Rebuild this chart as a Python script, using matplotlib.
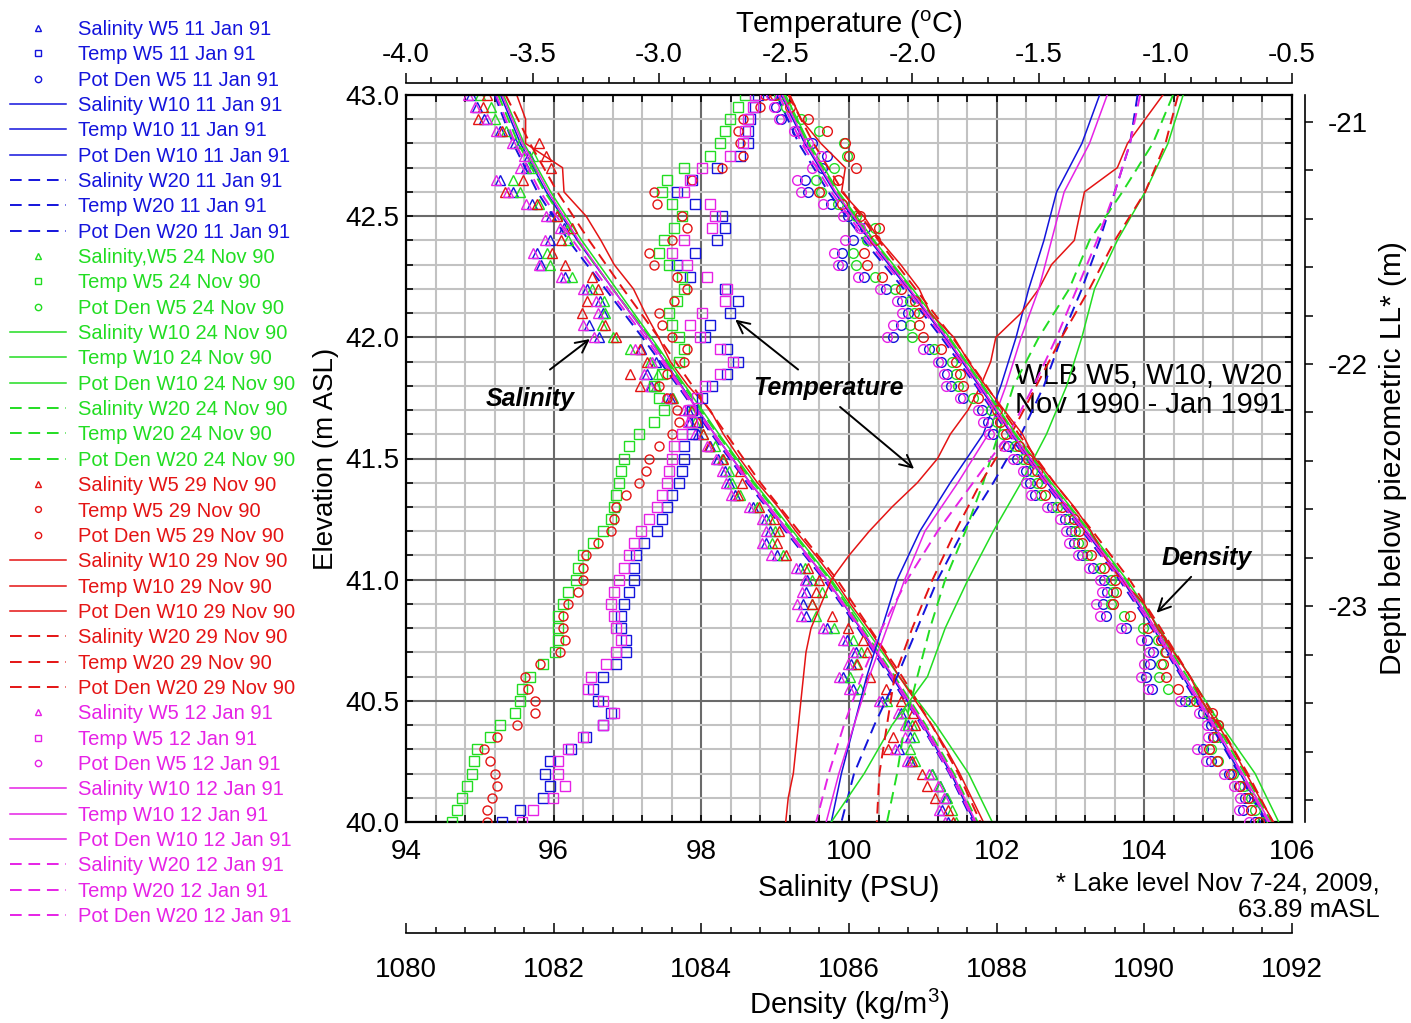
import numpy as np
import matplotlib
matplotlib.use('Agg')
import matplotlib.pyplot as plt
from matplotlib.ticker import MultipleLocator, FormatStrFormatter

plt.rcParams['font.family'] = ['Liberation Sans', 'DejaVu Sans']
plt.rcParams['mathtext.default'] = 'regular'

lake_level = 63.89  # mASL, Nov 7-24 2009

dates = ['11 Jan 91', '24 Nov 90', '29 Nov 90', '12 Jan 91']
colors = ['#1414dc', '#22dd22', '#e41414', '#e622e6']

# elevation of the samples (m ASL)
elev_w5 = np.round(np.arange(43.0, 39.999, -0.05), 2)
elev_w = [43.0, 42.8, 42.6, 42.4, 42.2, 42.0, 41.8, 41.6,
          41.4, 41.2, 41.0, 40.8, 40.6, 40.4, 40.2, 40.0]
elev_fine = np.round(np.arange(43.0, 39.999, -0.1), 1)

# ---- W5 profiles (markers) ----
sal_w5_jan11 = [94.88, 94.96, 95.05, 95.27, 95.48, 95.66, 95.63, 95.27, 95.45, 95.70,
                95.97, 96.14, 95.95, 95.78, 95.83, 96.15, 96.45, 96.63, 96.67, 96.48,
                96.62, 97.18, 97.38, 97.26, 97.32, 97.57, 97.82, 97.85, 97.96, 98.12,
                98.23, 98.32, 98.37, 98.46, 98.70, 98.88, 98.93, 98.88, 99.02, 99.33,
                99.43, 99.42, 99.38, 99.42, 99.70, 99.97, 100.10, 100.03, 99.92, 100.05,
                100.45, 100.71, 100.80, 100.82, 100.68, 100.82, 101.12, 101.23, 101.32, 101.26,
                101.34]
sal_w5_nov24 = [95.00, 95.15, 95.21, 95.35, 95.55, 95.72, 95.70, 95.45, 95.54, 95.80,
                96.05, 96.20, 96.20, 95.91, 95.95, 96.25, 96.52, 96.68, 96.70, 96.65,
                96.80, 97.03, 97.30, 97.41, 97.38, 97.62, 97.86, 97.92, 98.02, 98.18,
                98.28, 98.38, 98.42, 98.52, 98.76, 98.93, 99.00, 98.96, 99.10, 99.40,
                99.50, 99.64, 99.50, 99.55, 99.80, 100.05, 100.16, 100.10, 100.02, 100.15,
                100.52, 100.76, 100.86, 100.88, 100.83, 100.90, 101.12, 101.23, 101.33, 101.39,
                101.45]
sal_w5_nov29 = [95.10, 95.04, 94.98, 95.30, 95.80, 95.90, 95.97, 95.59, 95.34, 95.78,
                96.05, 96.25, 96.10, 95.98, 96.15, 96.52, 96.60, 96.45, 96.38, 96.70,
                96.85, 97.17, 97.26, 97.03, 97.17, 97.60, 97.88, 97.95, 98.02, 98.10,
                98.30, 98.52, 98.55, 98.50, 98.78, 98.98, 99.05, 99.02, 99.15, 99.45,
                99.60, 99.55, 99.50, 99.77, 99.99, 100.19, 100.25, 100.11, 100.29, 100.50,
                100.70, 100.87, 100.90, 100.60, 100.53, 100.85, 100.99, 101.06, 101.17, 101.34,
                101.41]
sal_w5_jan12 = [94.84, 94.94, 95.10, 95.22, 95.43, 95.60, 95.55, 95.22, 95.38, 95.63,
                95.90, 96.08, 95.88, 95.72, 95.80, 96.10, 96.40, 96.57, 96.60, 96.40,
                96.55, 97.10, 97.33, 97.22, 97.30, 97.52, 97.76, 97.82, 97.92, 98.08,
                98.20, 98.28, 98.33, 98.40, 98.64, 98.82, 98.88, 98.82, 98.95, 99.28,
                99.40, 99.36, 99.30, 99.35, 99.65, 99.92, 100.05, 99.98, 99.86, 100.00,
                100.40, 100.66, 100.76, 100.76, 100.62, 100.78, 101.08, 101.20, 101.28, 101.22,
                101.30]

temp_w5_jan11 = [-2.61, -2.62, -2.64, -2.65, -2.65, -2.68, -2.77, -2.87, -2.93, -2.86,
                 -2.75, -2.74, -2.77, -2.86, -2.93, -2.88, -2.74, -2.69, -2.72, -2.80,
                 -2.82, -2.73, -2.69, -2.73, -2.79, -2.83, -2.87, -2.85, -2.87, -2.90,
                 -2.90, -2.91, -2.92, -2.95, -2.97, -2.99, -3.01, -3.06, -3.09, -3.10,
                 -3.10, -3.12, -3.14, -3.15, -3.15, -3.13, -3.13, -3.17, -3.22, -3.26,
                 -3.24, -3.19, -3.22, -3.29, -3.35, -3.43, -3.45, -3.43, -3.46, -3.55,
                 -3.62]
temp_w5_nov24 = [-2.66, -2.69, -2.72, -2.74, -2.76, -2.80, -2.90, -2.97, -2.99, -2.95,
                 -2.91, -2.94, -2.98, -3.00, -2.96, -2.91, -2.90, -2.93, -2.96, -2.95,
                 -2.92, -2.90, -2.92, -2.99, -3.02, -3.00, -2.98, -3.02, -3.08, -3.12,
                 -3.14, -3.15, -3.16, -3.17, -3.18, -3.19, -3.22, -3.26, -3.30, -3.32,
                 -3.33, -3.36, -3.38, -3.40, -3.40, -3.40, -3.41, -3.46, -3.51, -3.54,
                 -3.55, -3.57, -3.63, -3.67, -3.72, -3.73, -3.74, -3.76, -3.78, -3.80,
                 -3.82]
temp_w5_nov29 = [-2.58, -2.60, -2.67, -2.69, -2.68, -2.67, -2.75, -2.87, -3.02, -3.01,
                 -2.91, -2.89, -2.95, -3.04, -3.02, -2.93, -2.89, -2.94, -3.00, -2.99,
                 -2.95, -2.89, -2.90, -2.97, -3.00, -2.97, -2.93, -2.92, -2.95, -3.00,
                 -3.04, -3.05, -3.08, -3.13, -3.17, -3.18, -3.19, -3.24, -3.29, -3.30,
                 -3.30, -3.32, -3.36, -3.38, -3.38, -3.37, -3.39, -3.47, -3.53, -3.52,
                 -3.49, -3.49, -3.56, -3.64, -3.69, -3.67, -3.65, -3.64, -3.66, -3.68,
                 -3.68]
temp_w5_jan12 = [-2.62, -2.63, -2.65, -2.66, -2.67, -2.72, -2.83, -2.88, -2.90, -2.80,
                 -2.78, -2.79, -2.90, -2.95, -2.89, -2.81, -2.73, -2.74, -2.83, -2.88,
                 -2.84, -2.76, -2.71, -2.76, -2.82, -2.85, -2.88, -2.87, -2.91, -2.94,
                 -2.95, -2.96, -2.97, -2.99, -3.01, -3.04, -3.07, -3.10, -3.12, -3.14,
                 -3.16, -3.18, -3.19, -3.18, -3.17, -3.15, -3.17, -3.21, -3.27, -3.28,
                 -3.22, -3.18, -3.22, -3.30, -3.36, -3.40, -3.40, -3.37, -3.42, -3.50,
                 -3.54]

dens_w5_jan11 = [1084.96, 1085.01, 1085.08, 1085.30, 1085.50, 1085.70, 1085.63, 1085.40, 1085.45, 1085.75,
                 1085.98, 1086.22, 1086.05, 1085.90, 1085.90, 1086.20, 1086.50, 1086.72, 1086.80, 1086.70,
                 1086.60, 1087.08, 1087.25, 1087.33, 1087.38, 1087.55, 1087.80, 1087.88, 1087.95, 1088.15,
                 1088.28, 1088.40, 1088.45, 1088.52, 1088.75, 1088.92, 1089.00, 1089.05, 1089.15, 1089.30,
                 1089.45, 1089.50, 1089.44, 1089.48, 1089.75, 1090.03, 1090.12, 1090.08, 1090.02, 1090.10,
                 1090.55, 1090.80, 1090.90, 1090.93, 1090.80, 1090.90, 1091.15, 1091.28, 1091.36, 1091.34,
                 1091.50]
dens_w5_nov24 = [1085.05, 1085.15, 1085.35, 1085.60, 1085.93, 1085.97, 1085.80, 1085.55, 1085.62, 1085.85,
                 1086.10, 1086.35, 1086.25, 1086.05, 1086.10, 1086.35, 1086.62, 1086.82, 1086.88, 1086.82,
                 1086.85, 1087.15, 1087.40, 1087.45, 1087.48, 1087.68, 1087.92, 1088.00, 1088.08, 1088.25,
                 1088.36, 1088.48, 1088.54, 1088.60, 1088.82, 1088.98, 1089.06, 1089.10, 1089.22, 1089.40,
                 1089.55, 1089.58, 1089.55, 1089.72, 1089.98, 1090.18, 1090.28, 1090.22, 1090.20, 1090.32,
                 1090.62, 1090.86, 1091.00, 1090.98, 1090.90, 1091.00, 1091.20, 1091.35, 1091.45, 1091.50,
                 1091.60]
dens_w5_nov29 = [1085.00, 1085.20, 1085.45, 1085.70, 1085.95, 1086.00, 1086.10, 1085.85, 1085.60, 1085.90,
                 1086.15, 1086.40, 1086.35, 1086.20, 1086.25, 1086.45, 1086.70, 1086.90, 1086.95, 1086.95,
                 1087.00, 1087.25, 1087.45, 1087.50, 1087.55, 1087.75, 1088.00, 1088.05, 1088.12, 1088.30,
                 1088.42, 1088.55, 1088.60, 1088.65, 1088.88, 1089.05, 1089.12, 1089.15, 1089.28, 1089.45,
                 1089.60, 1089.62, 1089.58, 1089.80, 1090.05, 1090.22, 1090.30, 1090.25, 1090.30, 1090.45,
                 1090.70, 1090.92, 1091.00, 1090.95, 1090.88, 1090.98, 1091.18, 1091.30, 1091.40, 1091.45,
                 1091.55]
dens_w5_jan12 = [1084.94, 1084.98, 1085.05, 1085.25, 1085.45, 1085.62, 1085.50, 1085.30, 1085.35, 1085.65,
                 1085.92, 1086.15, 1085.95, 1085.80, 1085.85, 1086.12, 1086.42, 1086.65, 1086.72, 1086.60,
                 1086.52, 1087.00, 1087.20, 1087.28, 1087.32, 1087.50, 1087.75, 1087.82, 1087.90, 1088.10,
                 1088.22, 1088.35, 1088.40, 1088.46, 1088.68, 1088.86, 1088.94, 1088.98, 1089.10, 1089.25,
                 1089.40, 1089.42, 1089.35, 1089.40, 1089.68, 1089.96, 1090.06, 1090.00, 1089.95, 1090.05,
                 1090.48, 1090.74, 1090.85, 1090.86, 1090.72, 1090.84, 1091.08, 1091.22, 1091.30, 1091.28,
                 1091.42]

# ---- W10 profiles (solid lines) ----
sal_w10_jan11 = [95.28, 95.55, 95.90, 96.32, 96.80, 97.28, 97.73, 98.18, 98.66, 99.18, 99.70, 100.15, 100.58, 101.00, 101.38, 101.70]
sal_w10_nov24 = [95.32, 95.60, 95.96, 96.38, 96.85, 97.32, 97.78, 98.24, 98.72, 99.24, 99.76, 100.22, 100.68, 101.18, 101.62, 101.94]
sal_w10_nov29 = [95.50, 95.62, 95.62, 96.12, 96.14, 96.44, 96.64, 96.82, 97.08, 97.24,
                 97.42, 97.58, 97.82, 98.12, 98.30, 98.52, 98.76, 99.04, 99.28, 99.55,
                 99.80, 100.02, 100.26, 100.48, 100.68, 100.90, 101.12, 101.32, 101.50, 101.66,
                 101.82]
sal_w10_jan12 = [95.30, 95.58, 95.93, 96.34, 96.80, 97.28, 97.72, 98.18, 98.66, 99.18, 99.70, 100.16, 100.60, 101.02, 101.40, 101.72]

temp_w10_jan11 = [-1.26, -1.33, -1.43, -1.48, -1.54, -1.59, -1.65, -1.72, -1.85, -1.97, -2.06, -2.12, -2.18, -2.23, -2.28, -2.32]
temp_w10_nov24 = [-0.93, -0.99, -1.08, -1.19, -1.28, -1.33, -1.39, -1.47, -1.57, -1.68, -1.78, -1.87, -1.94, -2.08, -2.19, -2.32]
temp_w10_nov29 = [-1.01, -1.08, -1.15, -1.19, -1.32, -1.34, -1.36, -1.45, -1.50, -1.57,
                  -1.67, -1.69, -1.73, -1.78, -1.85, -1.90, -1.98, -2.08, -2.17, -2.25,
                  -2.32, -2.36, -2.40, -2.42, -2.43, -2.44, -2.45, -2.46, -2.47, -2.49,
                  -2.50]
temp_w10_jan12 = [-1.23, -1.30, -1.40, -1.45, -1.50, -1.57, -1.63, -1.70, -1.82, -1.95, -2.03, -2.10, -2.17, -2.23, -2.29, -2.34]

dens_w10_jan11 = [1085.08, 1085.40, 1085.80, 1086.28, 1086.80, 1087.30, 1087.76, 1088.20, 1088.68, 1089.20, 1089.70, 1090.12, 1090.52, 1090.92, 1091.30, 1091.66]
dens_w10_nov24 = [1085.14, 1085.46, 1085.86, 1086.34, 1086.86, 1087.36, 1087.82, 1088.26, 1088.74, 1089.26, 1089.76, 1090.20, 1090.62, 1091.04, 1091.50, 1091.82]
dens_w10_nov29 = [1085.20, 1085.35, 1085.62, 1085.95, 1085.90, 1086.20, 1086.42, 1086.70, 1086.95, 1087.10,
                  1087.42, 1087.62, 1087.85, 1088.10, 1088.35, 1088.52, 1088.78, 1089.05, 1089.28, 1089.45,
                  1089.68, 1090.00, 1090.18, 1090.40, 1090.62, 1090.78, 1091.00, 1091.20, 1091.38, 1091.56,
                  1091.75]
dens_w10_jan12 = [1085.10, 1085.42, 1085.82, 1086.30, 1086.82, 1087.32, 1087.78, 1088.22, 1088.70, 1089.22, 1089.72, 1090.15, 1090.55, 1090.95, 1091.33, 1091.70]

# ---- W20 profiles (dashed lines) ----
sal_w20_jan11 = [95.20, 95.45, 95.78, 96.20, 96.70, 97.20, 97.68, 98.14, 98.62, 99.14, 99.66, 100.12, 100.55, 100.98, 101.36, 101.68]
sal_w20_nov24 = [95.25, 95.52, 95.88, 96.32, 96.80, 97.30, 97.76, 98.22, 98.70, 99.22, 99.74, 100.18, 100.62, 101.04, 101.42, 101.74]
sal_w20_nov29 = [95.35, 95.68, 96.05, 96.48, 96.94, 97.42, 97.88, 98.34, 98.80, 99.32, 99.84, 100.28, 100.72, 101.12, 101.48, 101.78]
sal_w20_jan12 = [95.22, 95.48, 95.82, 96.26, 96.74, 97.24, 97.70, 98.16, 98.64, 99.16, 99.68, 100.14, 100.57, 100.99, 101.37, 101.70]

temp_w20_jan11 = [-1.11, -1.14, -1.20, -1.26, -1.33, -1.41, -1.48, -1.57, -1.68, -1.80, -1.90, -1.98, -2.06, -2.15, -2.23, -2.28]
temp_w20_nov24 = [-0.97, -1.05, -1.17, -1.30, -1.38, -1.50, -1.60, -1.66, -1.72, -1.79, -1.87, -1.93, -1.98, -2.03, -2.06, -2.10]
temp_w20_nov29 = [-0.95, -1.00, -1.08, -1.20, -1.30, -1.41, -1.51, -1.61, -1.73, -1.83, -1.92, -2.00, -2.07, -2.10, -2.13, -2.14]
temp_w20_jan12 = [-1.10, -1.14, -1.20, -1.27, -1.35, -1.43, -1.52, -1.62, -1.76, -1.90, -2.02, -2.12, -2.20, -2.27, -2.33, -2.38]

dens_w20_jan11 = [1085.02, 1085.32, 1085.72, 1086.20, 1086.74, 1087.25, 1087.72, 1088.16, 1088.64, 1089.16, 1089.66, 1090.10, 1090.50, 1090.90, 1091.28, 1091.64]
dens_w20_nov24 = [1085.12, 1085.44, 1085.84, 1086.32, 1086.84, 1087.34, 1087.80, 1088.24, 1088.72, 1089.24, 1089.74, 1090.17, 1090.58, 1090.98, 1091.36, 1091.72]
dens_w20_nov29 = [1085.18, 1085.52, 1085.92, 1086.40, 1086.90, 1087.40, 1087.86, 1088.30, 1088.78, 1089.30, 1089.80, 1090.22, 1090.62, 1091.02, 1091.40, 1091.74]
dens_w20_jan12 = [1085.05, 1085.36, 1085.76, 1086.24, 1086.78, 1087.28, 1087.74, 1088.18, 1088.66, 1089.18, 1089.68, 1090.12, 1090.52, 1090.93, 1091.31, 1091.68]

# per-date bundles (date, colour, salinity name, temp marker, W5..., W10 elev, W10..., W20...)
runs = [
    (dates[0], colors[0], 'Salinity W5', 's', sal_w5_jan11, temp_w5_jan11, dens_w5_jan11,
     elev_w, sal_w10_jan11, temp_w10_jan11, dens_w10_jan11, sal_w20_jan11, temp_w20_jan11, dens_w20_jan11),
    (dates[1], colors[1], 'Salinity,W5', 's', sal_w5_nov24, temp_w5_nov24, dens_w5_nov24,
     elev_w, sal_w10_nov24, temp_w10_nov24, dens_w10_nov24, sal_w20_nov24, temp_w20_nov24, dens_w20_nov24),
    (dates[2], colors[2], 'Salinity W5', 'o', sal_w5_nov29, temp_w5_nov29, dens_w5_nov29,
     elev_fine, sal_w10_nov29, temp_w10_nov29, dens_w10_nov29, sal_w20_nov29, temp_w20_nov29, dens_w20_nov29),
    (dates[3], colors[3], 'Salinity W5', 's', sal_w5_jan12, temp_w5_jan12, dens_w5_jan12,
     elev_w, sal_w10_jan12, temp_w10_jan12, dens_w10_jan12, sal_w20_jan12, temp_w20_jan12, dens_w20_jan12),
]

fig = plt.figure(figsize=(14.11, 10.23), dpi=100)
ax = fig.add_axes([406 / 1411, 1 - 822 / 1023, 886 / 1411, 727 / 1023])
ax_t = ax.twiny()   # temperature
ax_d = ax.twiny()   # density
ax_r = ax.twinx()   # depth below lake level

dash = (0, (6, 3.5))
handles = []
labels = []
for (date, col, sname, tmk, s5, t5, d5, e10, s10, t10, d10, s20, t20, d20) in runs:
    mk = dict(ls='none', mfc='none', mec=col, mew=1.0)
    h = []
    h += ax.plot(s5, elev_w5, marker='^', ms=7.5, **mk)
    h += ax_t.plot(t5, elev_w5, marker=tmk, ms=6.5, **mk)
    h += ax_d.plot(d5, elev_w5, marker='o', ms=7, **mk)
    h += ax.plot(s10, e10, color=col, lw=1.1)
    h += ax_t.plot(t10, e10, color=col, lw=1.1)
    h += ax_d.plot(d10, e10, color=col, lw=1.1)
    h += ax.plot(s20, elev_w, color=col, lw=1.4, ls=dash)
    h += ax_t.plot(t20, elev_w, color=col, lw=1.4, ls=dash)
    h += ax_d.plot(d20, elev_w, color=col, lw=1.4, ls=dash)
    handles += h
    labels += [sname + ' ' + date, 'Temp W5 ' + date, 'Pot Den W5 ' + date,
               'Salinity W10 ' + date, 'Temp W10 ' + date, 'Pot Den W10 ' + date,
               'Salinity W20 ' + date, 'Temp W20 ' + date, 'Pot Den W20 ' + date]

# main (salinity / elevation) axes
ax.set_xlim(94, 106)
ax.set_ylim(40, 43)
ax.xaxis.set_major_locator(MultipleLocator(2))
ax.xaxis.set_minor_locator(MultipleLocator(0.4))
ax.yaxis.set_major_locator(MultipleLocator(0.5))
ax.yaxis.set_minor_locator(MultipleLocator(0.1))
ax.yaxis.set_major_formatter(FormatStrFormatter('%.1f'))
ax.set_axisbelow(True)
ax.grid(which='major', color='#6a6a6a', lw=1.5)
ax.grid(which='minor', color='#c2c2c2', lw=1.5)
for s in ax.spines.values():
    s.set_linewidth(1.6)
ax.set_xlabel('Salinity (PSU)', fontsize=21, labelpad=6)
ax.set_ylabel('Elevation (m ASL)', fontsize=20, labelpad=4)

# temperature axis on top
ax_t.set_xlim(-4.0, -0.5)
ax_t.xaxis.set_major_locator(MultipleLocator(0.5))
ax_t.xaxis.set_minor_locator(MultipleLocator(0.1))
ax_t.xaxis.set_major_formatter(FormatStrFormatter('%.1f'))
ax_t.spines['top'].set_position(('outward', 8.6))
for k in ['bottom', 'left', 'right']:
    ax_t.spines[k].set_visible(False)
ax_t.spines['top'].set_linewidth(1.2)
ax_t.tick_params(axis='x', which='major', direction='out', length=7, width=1.1, labelsize=20, pad=4)
ax_t.tick_params(axis='x', which='minor', direction='out', length=4, width=1.1)
ax_t.set_xlabel('Temperature ($^{o}$C)', fontsize=21, labelpad=6)

# density axis below
ax_d.set_xlim(1080, 1092)
ax_d.xaxis.set_major_locator(MultipleLocator(2))
ax_d.xaxis.set_minor_locator(MultipleLocator(0.4))
ax_d.xaxis.set_ticks_position('bottom')
ax_d.xaxis.set_label_position('bottom')
ax_d.spines['bottom'].set_position(('outward', 80))
for k in ['top', 'left', 'right']:
    ax_d.spines[k].set_visible(False)
ax_d.spines['bottom'].set_linewidth(1.2)
ax_d.tick_params(axis='x', which='major', direction='in', length=7, width=1.1, labelsize=20, pad=17)
ax_d.tick_params(axis='x', which='minor', direction='in', length=4, width=1.1)
ax_d.set_xlabel('Density (kg/m$^3$)', fontsize=21, labelpad=3)

# depth below piezometric lake level on the right
ax_r.set_ylim(40 - lake_level, 43 - lake_level)
ax_r.yaxis.set_major_locator(MultipleLocator(1))
ax_r.yaxis.set_minor_locator(MultipleLocator(0.2))
ax_r.yaxis.set_major_formatter(FormatStrFormatter('%d'))
ax_r.spines['right'].set_position(('outward', 9.4))
for k in ['top', 'bottom', 'left']:
    ax_r.spines[k].set_visible(False)
ax_r.spines['right'].set_linewidth(1.2)
ax_r.tick_params(axis='y', which='both', direction='out', length=6, width=1.1, labelsize=20, pad=10)
ax_r.set_ylabel('Depth below piezometric LL* (m)', fontsize=21.5, labelpad=8)

# twins switch the mirrored ticks off, put them back
ax.tick_params(which='both', direction='in', top=True, right=True, bottom=True, left=True,
               length=5, width=1.2, labelsize=20)
ax.tick_params(axis='x', which='major', pad=12.5)
ax.tick_params(axis='y', which='major', pad=5)

# annotations
arr = dict(arrowstyle='->', color='black', lw=1.4, mutation_scale=22)
txt = dict(fontsize=18, fontweight='bold', style='italic', ha='center', va='center')
ax.text(95.68, 41.745, 'Salinity', **txt)
ax.annotate('', xy=(96.52, 42.0), xytext=(95.92, 41.86), arrowprops=arr)
ax.text(99.72, 41.79, 'Temperature', **txt)
ax.annotate('', xy=(98.43, 42.08), xytext=(99.34, 41.86), arrowprops=arr)
ax.annotate('', xy=(100.91, 41.45), xytext=(99.85, 41.72), arrowprops=arr)
ax.text(104.84, 41.09, 'Density', **txt)
ax.annotate('', xy=(104.14, 40.855), xytext=(104.66, 41.02), arrowprops=arr)
ax.text(102.25, 41.78, 'WLB W5, W10, W20\nNov 1990 - Jan 1991', fontsize=21,
        ha='left', va='center', linespacing=1.05)

fig.text(1380 / 1411, 1 - 897 / 1023, '* Lake level Nov 7-24, 2009,\n63.89 mASL',
         fontsize=18.5, ha='right', va='center', multialignment='right', linespacing=1.15)

leg = fig.legend(handles, labels, loc='upper left', bbox_to_anchor=(10 / 1411, 1 - 20 / 1023),
                 frameon=False, fontsize=14.5, handlelength=2.8, handletextpad=0.6,
                 labelspacing=0.315, borderaxespad=0, borderpad=0, markerscale=0.65)
for t, h in zip(leg.get_texts(), handles):
    t.set_color(h.get_color() if h.get_linestyle() != 'None' else h.get_markeredgecolor())

fig.savefig('out.png', dpi=100)
